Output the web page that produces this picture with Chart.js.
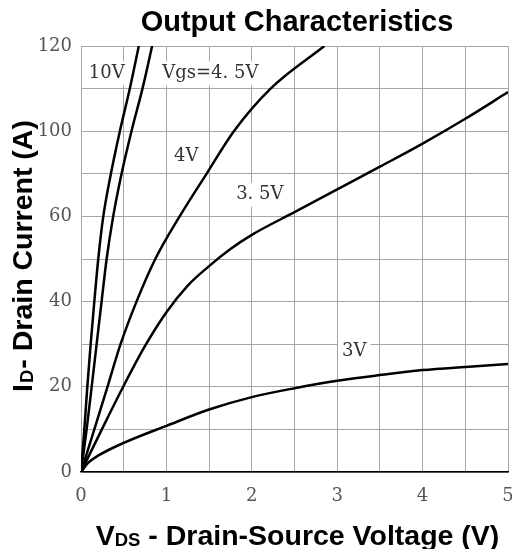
<!DOCTYPE html>
<html>
<head>
<meta charset="utf-8">
<script src="https://cdn.jsdelivr.net/npm/chart.js@4.4.1/dist/chart.umd.min.js"></script>
<style>
  html, body { margin: 0; padding: 0; background: #fff; }
  canvas { display: block; }
</style>
</head>
<body>
<canvas id="c" width="512" height="549"></canvas>
<script>
// ---- Data (y in axis grid units, 120 = top) ----
const vgs10V_vds  = [0, 0.039, 0.074, 0.113, 0.156, 0.202, 0.261, 0.35, 0.455, 0.572, 0.677];
const vgs10V_id   = [0, 12, 24, 36, 48, 60, 72, 84, 96, 108, 120];
const vgs45V_vds  = [0, 0.066, 0.125, 0.183, 0.241, 0.3, 0.377, 0.475, 0.591, 0.72, 0.833];
const vgs45V_id   = [0, 12, 24, 36, 48, 60, 72, 84, 96, 108, 120];
const vgs4V_vds   = [0, 0.156, 0.31, 0.463, 0.65, 0.87, 1.155, 1.47, 1.79, 2.22, 2.85];
const vgs4V_id    = [0, 12, 24, 36, 48, 60, 72, 84, 96, 108, 120];
const vgs35V_vds  = [0, 0.25, 0.5, 0.75, 1.0, 1.25, 1.5, 1.75, 2.0, 2.5, 3.0, 3.5, 4.0, 4.5, 5.0];
const vgs35V_id   = [0, 12.3, 24.3, 35.5, 45, 52.5, 58, 62.8, 66.8, 73.2, 79.6, 86, 92.5, 99.5, 107];
const vgs3V_vds   = [0, 0.08, 0.2, 0.5, 1.0, 1.5, 2.0, 2.5, 3.0, 3.5, 4.0, 4.5, 5.0];
const vgs3V_id    = [0, 2.5, 4.6, 8.2, 13.0, 17.6, 21.1, 23.6, 25.7, 27.3, 28.7, 29.6, 30.4];

const yTickValues = [0, 24, 48, 72, 96, 120];
const yTickLabels = ['0', '20', '40', '60', '100', '120'];
const xTickLabels = ['0', '1', '2', '3', '4', '5'];

const curveLabels = ['10V', 'Vgs=4. 5V', '4V', '3. 5V', '3V'];
const curveLabelX = [0.302, 1.514, 1.233, 2.094, 3.2];
const curveLabelY = [112.3, 112.3, 89, 78.1, 34];

const titleText = 'Output Characteristics';

function pts(xs, ys) { return xs.map((x, i) => ({ x: x, y: ys[i] })); }

function series(label, xs, ys) {
  return {
    label: label,
    data: pts(xs, ys),
    borderColor: '#000',
    borderWidth: 2.5,
    pointRadius: 0,
    fill: false,
    cubicInterpolationMode: 'monotone'
  };
}

const GRID = '#a6a6a6';

const annotate = {
  id: 'annotate',
  beforeDatasetsDraw(chart) {
    const ctx = chart.ctx;
    const xs = chart.scales.x, ys = chart.scales.y;
    ctx.save();
    ctx.font = '18px "DejaVu Serif"';
    ctx.textAlign = 'center';
    ctx.textBaseline = 'middle';
    for (let i = 0; i < curveLabels.length; i++) {
      const px = xs.getPixelForValue(curveLabelX[i]);
      const py = ys.getPixelForValue(curveLabelY[i]);
      const w = ctx.measureText(curveLabels[i]).width;
      ctx.fillStyle = '#fff';
      ctx.fillRect(px - w / 2 - 4, py - 12, w + 8, 24);
      ctx.fillStyle = '#333';
      ctx.fillText(curveLabels[i], px, py);
    }
    ctx.restore();
  },
  afterDraw(chart) {
    const ctx = chart.ctx;
    ctx.save();
    ctx.fillStyle = '#000';
    // Title
    ctx.font = 'bold 29px "Liberation Sans"';
    ctx.textAlign = 'center';
    ctx.textBaseline = 'alphabetic';
    ctx.fillText(titleText, 297, 31);

    // X axis title with subscript
    const mainF = 'bold 28.5px "Liberation Sans"';
    const subF = 'bold 18.5px "Liberation Sans"';
    ctx.textAlign = 'left';
    ctx.font = mainF; const wV = ctx.measureText('V').width;
    const rest = ' - Drain-Source Voltage (V)';
    const wRest = ctx.measureText(rest).width;
    ctx.font = subF; const wDS = ctx.measureText('DS').width;
    let total = wV + wDS + wRest;
    let x0 = 297.5 - total / 2;
    const by = 545;
    ctx.font = mainF; ctx.fillText('V', x0, by);
    ctx.font = subF; ctx.fillText('DS', x0 + wV, by + 1);
    ctx.font = mainF; ctx.fillText(rest, x0 + wV + wDS, by);

    // Y axis title with subscript (rotated)
    ctx.save();
    ctx.translate(32, 257);
    ctx.rotate(-Math.PI / 2);
    ctx.font = mainF; const wI = ctx.measureText('I').width;
    const restY = '- Drain Current (A)';
    const wRestY = ctx.measureText(restY).width;
    ctx.font = subF; const wD = ctx.measureText('D').width;
    total = wI + wD + wRestY;
    x0 = -total / 2;
    ctx.font = mainF; ctx.fillText('I', x0, 0);
    ctx.font = subF; ctx.fillText('D', x0 + wI + 1, 1);
    ctx.font = mainF; ctx.fillText(restY, x0 + wI + wD + 2, 0);
    ctx.restore();

    ctx.restore();
  }
};

new Chart(document.getElementById('c'), {
  type: 'line',
  data: {
    datasets: [
      series('10V', vgs10V_vds, vgs10V_id),
      series('4.5V', vgs45V_vds, vgs45V_id),
      series('4V', vgs4V_vds, vgs4V_id),
      series('3.5V', vgs35V_vds, vgs35V_id),
      series('3V', vgs3V_vds, vgs3V_id)
    ]
  },
  options: {
    responsive: false,
    animation: false,
    devicePixelRatio: 1,
    layout: { padding: { left: 0, right: 4, top: 46, bottom: 0 } },
    plugins: { legend: { display: false }, title: { display: false }, tooltip: { enabled: false } },
    scales: {
      x: {
        type: 'linear',
        min: 0, max: 5,
        afterFit(s) { s.height = 77; s.paddingLeft = 0; s.paddingRight = 0; },
        ticks: {
          stepSize: 0.5, autoSkip: false, maxRotation: 0, padding: 14,
          color: '#555', font: { family: 'DejaVu Serif', size: 18 },
          callback(v) { return Number.isInteger(v) ? xTickLabels[v] : ''; }
        },
        grid: { color: GRID, lineWidth: 1, drawTicks: false },
        border: { color: '#000', width: 1.5 }
      },
      y: {
        type: 'linear',
        min: 0, max: 120,
        afterFit(s) { s.width = 81; s.paddingTop = 0; s.paddingBottom = 0; },
        ticks: {
          stepSize: 12, autoSkip: false, padding: 9,
          color: '#555', font: { family: 'DejaVu Serif', size: 18 },
          callback(v) { const i = yTickValues.indexOf(v); return i >= 0 ? yTickLabels[i] : ''; }
        },
        grid: { color: GRID, lineWidth: 1, drawTicks: false },
        border: { color: GRID, width: 1 }
      }
    }
  },
  plugins: [annotate]
});
</script>
</body>
</html>
